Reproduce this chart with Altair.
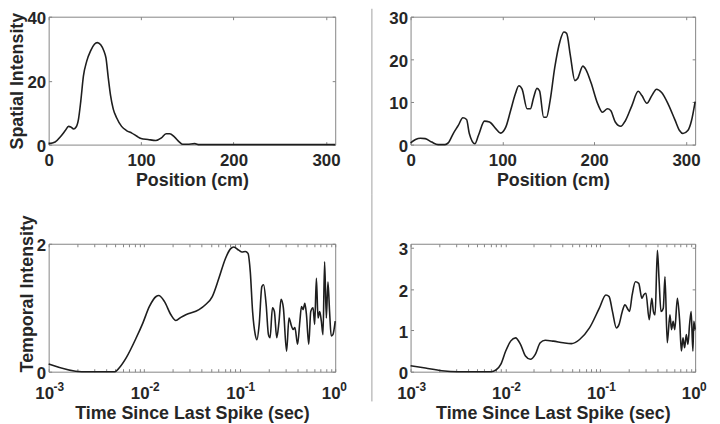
import altair as alt
import pandas as pd

# ---------------- data ----------------
pos_tl = [0, 7, 12.5, 18, 21.5, 24, 27, 29.7, 32.3, 34.8, 37.6, 41.2, 45.5, 49.5, 52.7, 56.3,
          59.9, 62, 64.5, 67, 69.9, 73.5, 78.9, 84.2, 90, 95, 100, 107.5, 116, 122, 127, 131,
          136, 141.5, 145, 150, 158, 163, 200, 250, 310]
spatial_tl = [0.3, 0.8, 2.4, 4.4, 5.7, 5.5, 4.9, 5.5, 8.0, 13.7, 21.4, 26.1, 29.4, 31.4, 31.9, 31.2,
              29.2, 27.1, 20.9, 15.3, 11.1, 8.4, 5.7, 4.4, 3.6, 2.7, 1.9, 1.6, 1.3, 2.1, 3.4, 3.4,
              2.4, 0.8, 0.1, 0.1, 0.3, 0, 0, 0, 0]

pos_tr = [0, 5.4, 10.7, 16, 23, 30, 37.5, 41, 46.5, 52, 57, 61, 64, 70, 74, 80.5, 86, 93, 98,
          103.7, 109, 114, 118, 121.5, 127, 130.5, 134, 137.7, 140.5, 145, 148, 152, 157, 162.7,
          167, 170, 174, 179, 182, 187.7, 191, 196.6, 204, 209, 214.5, 218, 223, 229, 234, 241,
          248, 252, 257.4, 262.8, 268, 273.5, 280.6, 288, 293, 296.7, 302, 306, 310]
spatial_tr = [0.4, 1.2, 1.5, 1.4, 0.6, 0, 0, 0.4, 2.6, 4.5, 6.3, 5.9, 2.6, 0.2, 2.2, 5.5, 5.3, 3.7,
              2.7, 4.1, 8.0, 11.8, 13.8, 13.0, 8.4, 8.4, 11.0, 13.2, 12.6, 6.4, 6.4, 10.3, 18.0,
              24.2, 26.4, 26.1, 21.0, 15.0, 15.5, 18.4, 17.6, 14.5, 9.5, 7.6, 8.4, 8.0, 5.3, 4.3,
              5.6, 9.1, 12.5, 11.5, 9.7, 11.5, 13.0, 12.2, 9.5, 5.8, 3.3, 2.6, 3.3, 5.6, 10.1]

time_bl = [0.001, 0.00222, 0.00492, 0.00555, 0.0065, 0.00826, 0.00968, 0.01135, 0.01334, 0.01419,
           0.01626, 0.01905, 0.02148, 0.02421, 0.02729, 0.0375, 0.04406, 0.05164, 0.06053, 0.07096,
           0.0800, 0.0867, 0.0977, 0.1057, 0.1146, 0.1222, 0.1291, 0.1365, 0.1455, 0.1514, 0.1600,
           0.1706, 0.1778, 0.1892, 0.2000, 0.2080, 0.2203, 0.2307, 0.2443, 0.2582, 0.2710, 0.2864,
           0.3097, 0.3281, 0.3491, 0.3631, 0.3784, 0.4036, 0.4266, 0.4436, 0.4613, 0.4808, 0.5000,
           0.5284, 0.5546, 0.5861, 0.6095, 0.6353, 0.6607, 0.6871, 0.7161, 0.7447, 0.7745, 0.8072,
           0.8395, 0.8730, 0.9078, 0.9462, 1.0]
temporal_bl = [0.12, 0, 0, 0.07, 0.22, 0.53, 0.76, 1.02, 1.175, 1.19, 1.10, 0.89, 0.80, 0.85, 0.89,
               0.97, 1.05, 1.175, 1.46, 1.77, 1.92, 1.95, 1.90, 1.87, 1.88, 1.85, 1.56, 0.94, 0.58,
               0.50, 0.74, 1.33, 1.36, 1.05, 0.58, 0.53, 1.00, 0.94, 0.53, 0.79, 1.13, 1.00, 0.32,
               0.84, 0.71, 0.66, 0.69, 0.43, 0.79, 1.02, 0.97, 1.07, 0.89, 0.43, 0.94, 1.00, 0.74,
               1.46, 0.84, 0.94, 0.79, 0.58, 1.72, 0.84, 1.40, 0.94, 0.56, 0.58, 0.79]

time_br = [0.001, 0.001432, 0.002133, 0.003177, 0.007047, 0.007943, 0.008954, 0.01007, 0.01135,
           0.01279, 0.01442, 0.01626, 0.01832, 0.02065, 0.02328, 0.02624, 0.03199, 0.04064, 0.04966,
           0.06053, 0.07691, 0.09772, 0.1146, 0.1239, 0.1343, 0.1479, 0.1574, 0.1706, 0.1820,
           0.1968, 0.2032, 0.2168, 0.2344, 0.2541, 0.2748, 0.2864, 0.3027, 0.3281, 0.3491, 0.3631,
           0.3784, 0.3999, 0.4159, 0.4365, 0.4613, 0.4808, 0.5082, 0.5420, 0.5636, 0.5861, 0.6095,
           0.6501, 0.6871, 0.7161, 0.7447, 0.7745, 0.8072, 0.8395, 0.8730, 0.9078, 0.9462, 0.9683,
           1.0]
temporal_br = [0.144, 0.088, 0.024, 0, 0, 0.04, 0.184, 0.50, 0.74, 0.82, 0.66, 0.38, 0.30, 0.42,
               0.70, 0.76, 0.74, 0.70, 0.68, 0.78, 1.06, 1.54, 1.86, 1.82, 1.46, 1.06, 1.14, 1.46,
               1.62, 1.50, 1.46, 1.86, 2.18, 2.14, 1.78, 1.86, 1.90, 1.26, 1.78, 1.46, 1.38, 2.94,
               2.26, 1.46, 1.54, 2.30, 0.70, 1.38, 1.02, 1.22, 1.02, 1.78, 1.22, 0.50, 0.82, 0.58,
               0.90, 0.66, 1.14, 1.46, 0.50, 1.22, 1.02]

pos_ticks = [0, 100, 200, 300]
log_ticks = [0.001, 0.002, 0.003, 0.004, 0.005, 0.006, 0.007, 0.008, 0.009,
             0.01, 0.02, 0.03, 0.04, 0.05, 0.06, 0.07, 0.08, 0.09,
             0.1, 0.2, 0.3, 0.4, 0.5, 0.6, 0.7, 0.8, 0.9, 1.0]
decades = [0.001, 0.01, 0.1, 1.0]
exponents = ["-3", "-2", "-1", "0"]

# ---------------- style ----------------
FONT = "Liberation Sans, Arial, Helvetica, sans-serif"
TEXT = "#262626"
LINE = "#1e1e1e"
FRAME = "#858585"
WL, WR, H = 289, 287, 129


def y_axis(yticks, ytitle, w, title_y=None):
    args = dict(values=yticks, grid=True, gridDash=[3, w - 6], labelPadding=3, format="d",
                titlePadding=0, labelOffset=2)
    args["title"] = ytitle if ytitle else None
    if ytitle and title_y is not None:
        args["titleY"] = title_y
    return alt.Axis(**args)


def lin_panel(x, y, ymax, yticks, ytitle, w):
    df = pd.DataFrame({"x": x, "y": y})
    return alt.Chart(df).mark_line(color=LINE, strokeWidth=1.6, interpolate="monotone").encode(
        x=alt.X("x:Q", scale=alt.Scale(domain=[0, 310], nice=False, zero=False),
                axis=alt.Axis(values=pos_ticks, title="Position (cm)", grid=True,
                              gridDash=[3, H - 6], labelPadding=8, titlePadding=3,
                              labelFlush=False)),
        y=alt.Y("y:Q", scale=alt.Scale(domain=[0, ymax], nice=False),
                axis=y_axis(yticks, ytitle, w)),
    ).properties(width=w, height=H)


def log_panel(t, y, ymax, yticks, ytitle, w, title_y=None):
    df = pd.DataFrame({"t": t, "y": y})
    ex = pd.DataFrame({"t": decades, "e": exponents})
    xscale = alt.Scale(type="log", domain=[0.001, 1.0], nice=False)
    xaxis = alt.Axis(values=log_ticks, title="Time Since Last Spike (sec)", grid=True,
                     gridDash=[3, H - 6], labelPadding=14, titlePadding=3,
                     labelFlush=False, labelOverlap=False, labelOffset=-4.5,
                     labelExpr="datum.value == 0.001 || datum.value == 0.01 || datum.value == 0.1 || datum.value == 1 ? '10' : ''")
    line = alt.Chart(df).mark_line(color=LINE, strokeWidth=1.6, interpolate="monotone").encode(
        x=alt.X("t:Q", scale=xscale, axis=xaxis),
        y=alt.Y("y:Q", scale=alt.Scale(domain=[0, ymax], nice=False),
                axis=y_axis(yticks, ytitle, w, title_y)),
    )
    sup = alt.Chart(ex).mark_text(align="left", baseline="alphabetic", dx=5, font=FONT,
                                  fontSize=12, fontWeight="bold", color=TEXT).encode(
        x=alt.X("t:Q", scale=xscale, axis=xaxis),
        y=alt.value(H + 19),
        text="e:N",
    )
    return alt.layer(line, sup).properties(width=w, height=H)


def divider(y_top, y_bottom):
    return alt.Chart(pd.DataFrame({"d": [0]})).mark_rule(color="#a0a0a0", strokeWidth=1).encode(
        x=alt.value(0), y=alt.value(y_top), y2=alt.value(y_bottom)
    ).properties(width=2, height=H, view=alt.ViewBackground(strokeOpacity=0))


tl = lin_panel(pos_tl, spatial_tl, 40, [0, 20, 40], "Spatial Intensity", WL)
tr = lin_panel(pos_tr, spatial_tr, 30, [0, 10, 20, 30], None, WR)
bl = log_panel(time_bl, temporal_bl, 2, [0, 1, 2], "Temporal Intensity", WL, title_y=50)
br = log_panel(time_br, temporal_br, 3.1, [0, 1, 2, 3], None, WR)

chart = alt.concat(
    tl, divider(-8, H + 50), tr,
    bl, divider(-50, H + 30), br,
    columns=3, spacing={"row": 100, "column": 37}, bounds="flush",
).properties(
    padding={"left": 0, "top": -2, "right": 4, "bottom": 0},
    background="white",
).configure_view(
    stroke=FRAME, strokeWidth=1
).configure_axis(
    labelFont=FONT, labelFontSize=17, labelFontWeight="bold", labelColor=TEXT,
    titleFont=FONT, titleFontSize=18, titleFontWeight="bold", titleColor=TEXT,
    domain=False, ticks=False, tickSize=0,
    gridColor=FRAME, gridWidth=1, gridOpacity=1,
)

chart.save("out.html", embed_options={"renderer": "svg", "actions": False})
